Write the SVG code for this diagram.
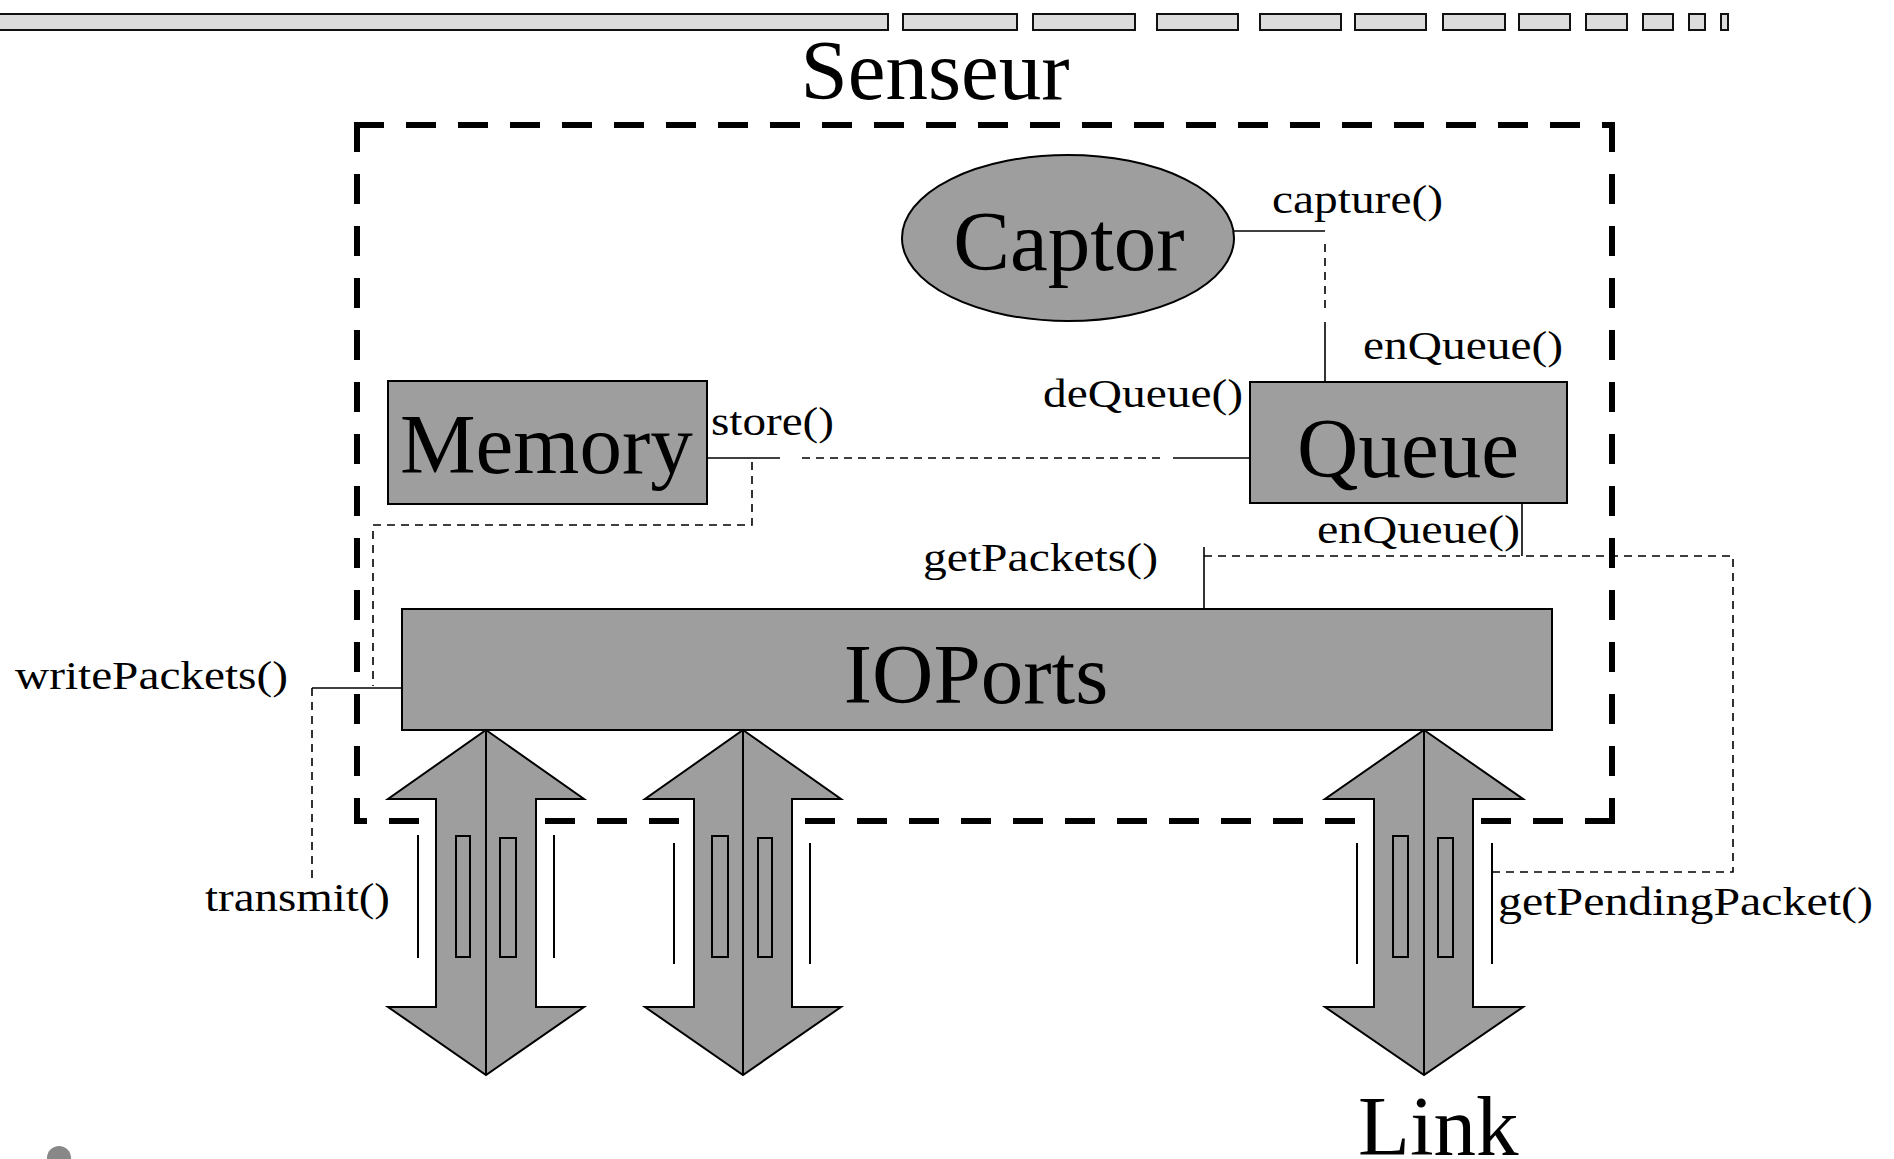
<svg xmlns="http://www.w3.org/2000/svg" width="1894" height="1159" viewBox="0 0 1894 1159">
<style>
  .big { font-family: "Liberation Serif", "Times New Roman", serif; font-size: 85px; fill: #000; }
  .lbl { font-family: "Liberation Serif", "Times New Roman", serif; font-size: 39px; fill: #000; }
  .node { fill: #9e9e9e; stroke: #000; stroke-width: 2; }
  .bar { fill: #dcdcdc; stroke: #111; stroke-width: 2; }
  .outer { fill: none; stroke: #000; stroke-width: 6; stroke-dasharray: 30 22; }
  .solid { fill: none; stroke: #000; stroke-width: 1.6; }
  .dash { fill: none; stroke: #000; stroke-width: 1.6; stroke-dasharray: 8 6; }
  .arrow { fill: #9e9e9e; stroke: #000; stroke-width: 2; stroke-linejoin: miter; }
  .thin { stroke: #000; stroke-width: 2; fill: none; }
</style>
<rect x="0" y="0" width="1894" height="1159" fill="#fff"/>

<g id="top-bar">
  <rect class="bar" x="-2" y="14" width="890" height="16"/>
  <rect class="bar" x="903" y="14" width="114" height="16"/>
  <rect class="bar" x="1033" y="14" width="102" height="16"/>
  <rect class="bar" x="1157" y="14" width="81" height="16"/>
  <rect class="bar" x="1260" y="14" width="81" height="16"/>
  <rect class="bar" x="1355" y="14" width="71" height="16"/>
  <rect class="bar" x="1443" y="14" width="62" height="16"/>
  <rect class="bar" x="1519" y="14" width="51" height="16"/>
  <rect class="bar" x="1586" y="14" width="41" height="16"/>
  <rect class="bar" x="1643" y="14" width="30" height="16"/>
  <rect class="bar" x="1689" y="14" width="16" height="16"/>
  <rect class="bar" x="1721" y="14" width="7" height="16"/>
</g>

<g id="senseur">
  <line class="outer" x1="354" y1="125" x2="1612" y2="125"/>
  <line class="outer" x1="357" y1="122" x2="357" y2="821"/>
  <line class="outer" x1="1612" y1="122" x2="1612" y2="821"/>
  <line class="outer" x1="1615" y1="821" x2="354" y2="821"/>
  <text class="big" x="935" y="99" text-anchor="middle">Senseur</text>
</g>

<g id="connectors">
  <line class="solid" x1="1233" y1="231" x2="1325" y2="231"/>
  <line class="dash" x1="1325" y1="244" x2="1325" y2="312"/>
  <line class="solid" x1="1325" y1="322" x2="1325" y2="382"/>
  <line class="solid" x1="707" y1="458" x2="780" y2="458"/>
  <line class="dash" x1="802" y1="458" x2="1162" y2="458"/>
  <line class="solid" x1="1173" y1="458" x2="1250" y2="458"/>
  <polyline class="dash" points="752,462 752,525 373,525 373,686"/>
  <line class="solid" x1="312" y1="688" x2="402" y2="688"/>
  <line class="dash" x1="312" y1="688" x2="312" y2="882"/>
  <line class="solid" x1="1204" y1="547" x2="1204" y2="609"/>
  <line class="solid" x1="1522" y1="503" x2="1522" y2="556"/>
  <polyline class="dash" points="1204,556 1733,556 1733,872 1492,872"/>
</g>

<g id="captor">
  <ellipse class="node" cx="1068" cy="238" rx="166" ry="83"/>
  <text class="big" x="1069" y="270" text-anchor="middle">Captor</text>
</g>

<g id="memory">
  <rect class="node" x="388" y="381" width="319" height="123"/>
  <text class="big" x="400" y="473">Memory</text>
</g>

<g id="queue">
  <rect class="node" x="1250" y="382" width="317" height="121"/>
  <text class="big" x="1408" y="477" text-anchor="middle">Queue</text>
</g>

<g id="ioports">
  <rect class="node" x="402" y="609" width="1150" height="121"/>
  <text class="big" x="976" y="703" text-anchor="middle">IOPorts</text>
</g>

<g id="port1">
  <polygon class="arrow" points="486,730 584,799 536,799 536,1007 584,1007 486,1075 388,1007 436,1007 436,799 388,799"/>
  <line class="thin" x1="486" y1="730" x2="486" y2="1075"/>
  <rect class="arrow" x="456" y="836" width="14" height="121"/>
  <rect class="arrow" x="500" y="838" width="16" height="119"/>
  <line class="thin" x1="418" y1="835" x2="418" y2="958"/>
  <line class="thin" x1="554" y1="835" x2="554" y2="958"/>
</g>

<g id="port2">
  <polygon class="arrow" points="743,730 841,799 792,799 792,1007 841,1007 743,1075 645,1007 694,1007 694,799 645,799"/>
  <line class="thin" x1="743" y1="730" x2="743" y2="1075"/>
  <rect class="arrow" x="712" y="836" width="16" height="121"/>
  <rect class="arrow" x="758" y="838" width="14" height="119"/>
  <line class="thin" x1="674" y1="843" x2="674" y2="964"/>
  <line class="thin" x1="810" y1="843" x2="810" y2="964"/>
</g>

<g id="link">
  <polygon class="arrow" points="1424,730 1523,799 1473,799 1473,1007 1523,1007 1424,1075 1325,1007 1374,1007 1374,799 1325,799"/>
  <line class="thin" x1="1424" y1="730" x2="1424" y2="1075"/>
  <rect class="arrow" x="1393" y="836" width="15" height="121"/>
  <rect class="arrow" x="1438" y="838" width="15" height="119"/>
  <line class="thin" x1="1357" y1="843" x2="1357" y2="964"/>
  <line class="thin" x1="1492" y1="843" x2="1492" y2="964"/>
  <text class="big" x="1358" y="1155">Link</text>
</g>

<g id="labels">
  <text class="lbl" x="1272" y="213" textLength="171" lengthAdjust="spacingAndGlyphs">capture()</text>
  <text class="lbl" x="1363" y="359" textLength="200" lengthAdjust="spacingAndGlyphs">enQueue()</text>
  <text class="lbl" x="1043" y="407" textLength="200" lengthAdjust="spacingAndGlyphs">deQueue()</text>
  <text class="lbl" x="711" y="435" textLength="123" lengthAdjust="spacingAndGlyphs">store()</text>
  <text class="lbl" x="1317" y="543" textLength="203" lengthAdjust="spacingAndGlyphs">enQueue()</text>
  <text class="lbl" x="923" y="571" textLength="235" lengthAdjust="spacingAndGlyphs">getPackets()</text>
  <text class="lbl" x="15" y="689" textLength="273" lengthAdjust="spacingAndGlyphs">writePackets()</text>
  <text class="lbl" x="205" y="911" textLength="185" lengthAdjust="spacingAndGlyphs">transmit()</text>
  <text class="lbl" x="1498" y="915" textLength="375" lengthAdjust="spacingAndGlyphs">getPendingPacket()</text>
</g>

<circle cx="59" cy="1158" r="12" fill="#888"/>
</svg>
